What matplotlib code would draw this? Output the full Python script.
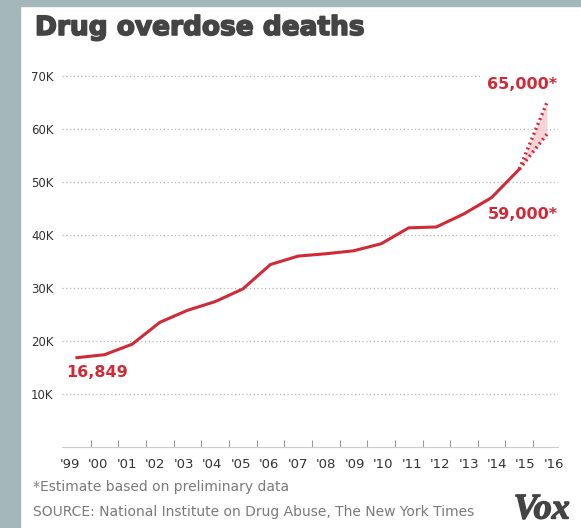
import matplotlib.pyplot as plt
from matplotlib.patches import Rectangle
import matplotlib.transforms as mtransforms
import matplotlib.patheffects as pe

# data
years = [1999, 2000, 2001, 2002, 2003, 2004, 2005, 2006, 2007, 2008,
         2009, 2010, 2011, 2012, 2013, 2014, 2015]
deaths = [16849, 17415, 19394, 23518, 25785, 27424, 29813, 34425, 36010,
          36450, 37004, 38329, 41340, 41502, 43982, 47055, 52404]
est_year = 2016
est_low = 59000
est_high = 65000
xlabels = ["'99", "'00", "'01", "'02", "'03", "'04", "'05", "'06", "'07",
           "'08", "'09", "'10", "'11", "'12", "'13", "'14", "'15", "'16"]
yticks = [10000, 20000, 30000, 40000, 50000, 60000, 70000]
ylabels = ["10K", "20K", "30K", "40K", "50K", "60K", "70K"]

red = "#d12a37"
W, H = 581, 528

fig = plt.figure(figsize=(W / 100, H / 100), dpi=100)
fig.patch.set_facecolor("white")
# grey frame strips
fig.patches.append(Rectangle((0, 0), 20 / W, 1, transform=fig.transFigure,
                             color="#a3b6ba", zorder=0))
fig.patches.append(Rectangle((0, 1 - 6 / H), 1, 6 / H, transform=fig.transFigure,
                             color="#a3b6ba", zorder=0))

ax = fig.add_axes([62 / W, 1 - 447 / H, (558 - 62) / W, (447 - 60) / H])
ax.set_xlim(1998.46, 2016.4)
ax.set_ylim(0, 73000)

for v in yticks:
    ax.axhline(v, color="#b5b5b5", lw=0.9, ls=(0, (1, 2)), zorder=1)

ax.plot(years, deaths, color=red, lw=2.2, solid_joinstyle="miter", zorder=3)
ax.plot([years[-1], est_year], [deaths[-1], est_high], color=red, lw=2.4,
        ls=(0, (0.6, 1.0)), zorder=3)
ax.plot([years[-1], est_year], [deaths[-1], est_low], color=red, lw=2.4,
        ls=(0, (0.6, 1.0)), zorder=3)
ax.fill_between([years[-1], est_year], [deaths[-1], est_low],
                [deaths[-1], est_high], color="#f3c9cd", alpha=0.8, lw=0, zorder=2)

ax.text(1998.6, 14000, "16,849", color=red, fontsize=11.5, fontweight="bold",
        va="center", ha="left", zorder=4)
ax.text(2016.38, 68300, "65,000*", color=red, fontsize=11.5, fontweight="bold",
        va="center", ha="right", zorder=4,
        bbox=dict(facecolor="white", edgecolor="none", pad=4))
ax.text(2016.38, 43800, "59,000*", color=red, fontsize=11.5, fontweight="bold",
        va="center", ha="right", zorder=4)

ax.set_yticks(yticks)
ax.set_yticklabels(ylabels, fontsize=8.5, color="#333333")
ax.set_xticks(years + [est_year])
ax.set_xticklabels(xlabels, fontsize=9.5, color="#333333")
ax.set_xticks([y + 0.5 for y in years], minor=True)
ax.tick_params(axis="y", length=0, pad=6)
ax.tick_params(axis="x", which="major", length=0, pad=8)
ax.tick_params(axis="x", which="minor", direction="in", length=5, width=0.8,
               color="#999999")
# spread the year labels a touch, like the original
for i, lab in enumerate(ax.get_xticklabels()):
    dx = (i - 8.5) * 0.6 / 72
    lab.set_transform(lab.get_transform() +
                      mtransforms.ScaledTranslation(dx, 0, fig.dpi_scale_trans))
for s in ["top", "right", "left"]:
    ax.spines[s].set_visible(False)
ax.spines["bottom"].set_color("#cccccc")
ax.spines["bottom"].set_linewidth(0.8)
ax.set_facecolor("none")

fig.text(35 / W, 1 - 28 / H, "Drug overdose deaths", fontsize=19,
         fontweight="bold", color="#444444", va="center", ha="left",
         path_effects=[pe.withStroke(linewidth=1.2, foreground="#444444")])
fig.text(33 / W, 1 - 487 / H, "*Estimate based on preliminary data",
         fontsize=10, color="#7a7a7a", va="center", ha="left")
fig.text(33 / W, 1 - 512 / H,
         "SOURCE: National Institute on Drug Abuse, The New York Times",
         fontsize=10, color="#7a7a7a", va="center", ha="left")
fig.text(570 / W, 1 - 510 / H, "Vox", fontsize=26, fontweight="bold",
         style="italic", color="#444444", va="center", ha="right",
         family=["Liberation Serif", "DejaVu Serif"],
         path_effects=[pe.withStroke(linewidth=1.0, foreground="#444444")])

fig.savefig("out.png", dpi=100)
